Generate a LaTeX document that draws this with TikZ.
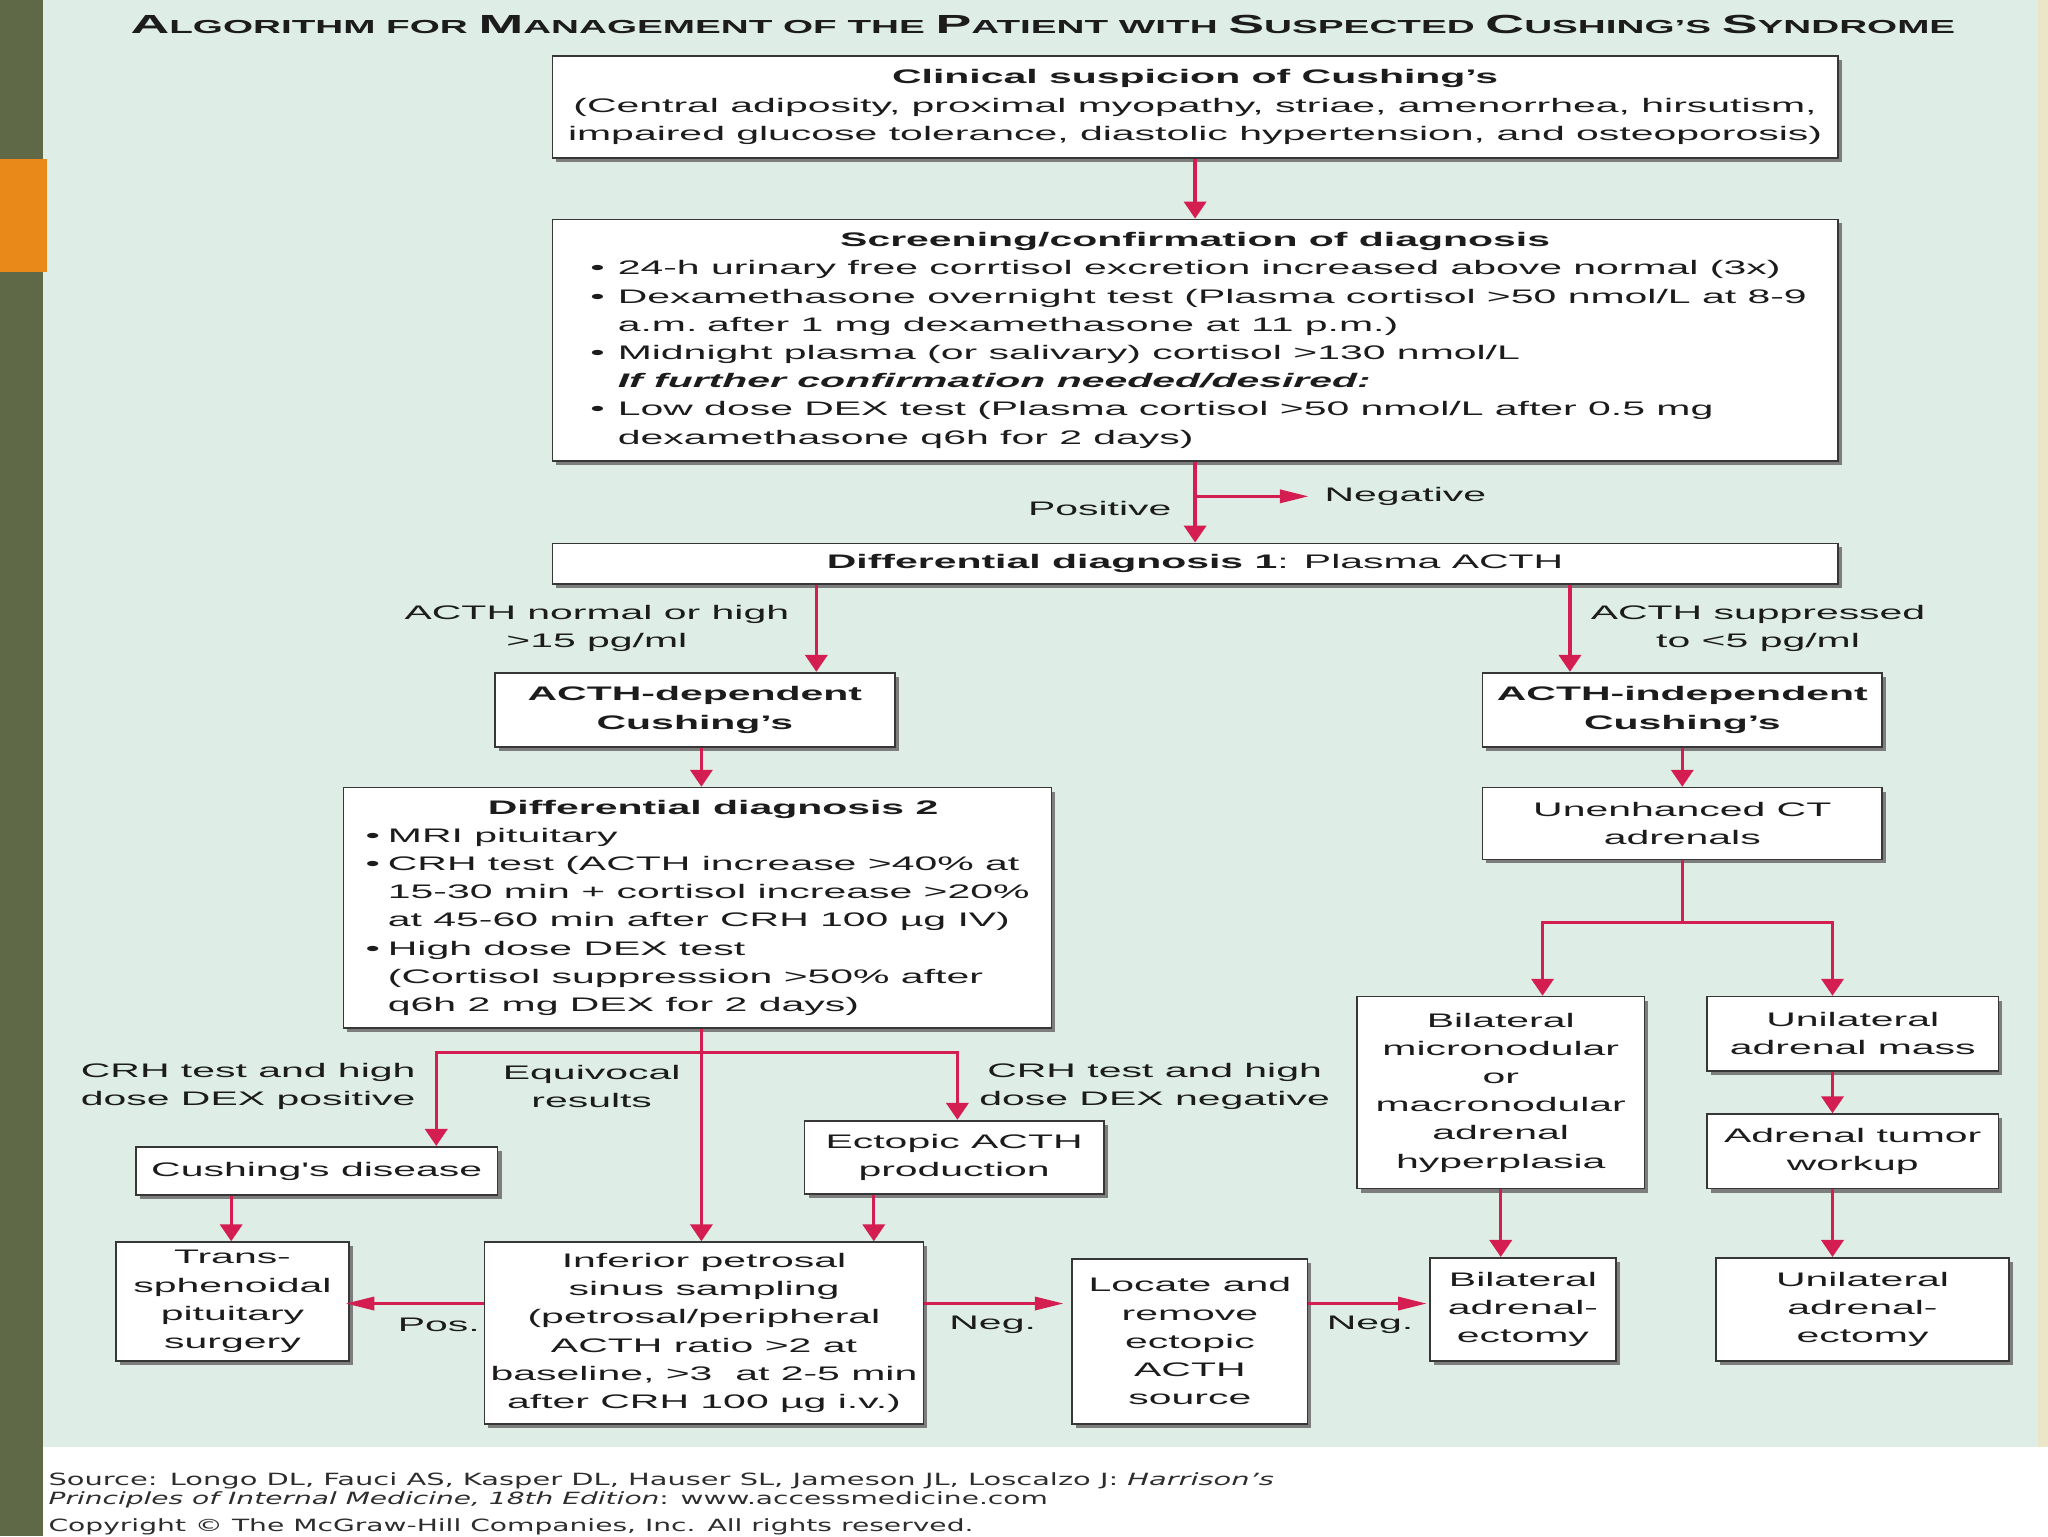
\documentclass[tikz,border=0pt]{standalone}
\usepackage{fontspec}
\usepackage{graphicx}
\newfontfamily\dfont{Liberation Sans}[FakeStretch=2.09]
\newfontfamily\ffont{DejaVu Sans}
\usetikzlibrary{arrows.meta,shadows}
\definecolor{mintbg}{RGB}{222,237,229}
\definecolor{olivec}{RGB}{95,105,72}
\definecolor{orangec}{RGB}{232,137,26}
\definecolor{creamc}{RGB}{236,230,200}
\definecolor{arrc}{RGB}{212,30,82}
\definecolor{boxc}{RGB}{55,55,55}
\definecolor{shadc}{RGB}{125,125,125}
\definecolor{txtc}{RGB}{28,28,28}
\definecolor{footc}{RGB}{45,45,45}
\newcommand\dfs{\dfont\fontsize{15}{21.6}\selectfont}
\newcommand\widesp{\spaceskip=8.7pt plus 1pt minus 1pt\relax}
\newcommand\mybul{\makebox[21pt][l]{•}}
\newcommand\myind{\hspace*{21pt}}
\newcommand\mybulb{\makebox[17pt][l]{•}}
\newcommand\myindb{\hspace*{17pt}}
\newcommand\bigc[1]{{\fontsize{20}{20}\selectfont #1}}
\begin{document}
\begin{tikzpicture}[x=1pt,y=-1pt,
  box/.style={draw=boxc, line width=1.3pt, fill=white, inner sep=0pt, align=center,
    text=txtc, font=\dfs,
    drop shadow={shadow xshift=3pt, shadow yshift=-3pt, fill=shadc, opacity=1}},
  conn/.style={draw=arrc, line width=2.5pt},
  varr/.style={conn, -{Triangle[length=13pt, width=17pt]}},
  harr/.style={conn, -{Triangle[length=22pt, width=10pt]}},
  lbl/.style={inner sep=0pt, align=center, font=\dfs, text=txtc}]
\useasboundingbox (0,0) rectangle (1568,1176);
% background
\fill[white] (0,0) rectangle (1568,1176);
\fill[mintbg] (33,0) rectangle (1560,1108);
\fill[creamc] (1560,0) rectangle (1568,1108);
\fill[olivec] (0,0) rectangle (33,1176);
\fill[orangec] (0,122) rectangle (36,208);
% title
\node[anchor=base, inner sep=0pt, text=txtc] (title) at (798.5,25.5)
  {\resizebox{1397pt}{14pt}{\dfont\bfseries\fontsize{14.4}{20}\selectfont \bigc{A}LGORITHM FOR \bigc{M}ANAGEMENT OF THE \bigc{P}ATIENT WITH \bigc{S}USPECTED \bigc{C}USHING’S \bigc{S}YNDROME}};
% boxes
\node[box, minimum width=984pt, minimum height=78pt] (clin) at (915,82)
  {{\bfseries Clinical suspicion of Cushing’s}\\(Central adiposity, proximal myopathy, striae, amenorrhea, hirsutism,\\impaired glucose tolerance, diastolic hypertension, and osteoporosis)};
\node[box, minimum width=984pt, minimum height=185pt, text width=926pt, align=left] (screen) at (915,260.5)
  {\widesp\makebox[926pt]{\bfseries Screening/confirmation of diagnosis}\\
   \mbox{\mybul 24-h urinary free corrtisol excretion increased above normal (3x)}\\
   \mbox{\mybul Dexamethasone overnight test (Plasma cortisol >50 nmol/L at 8-9}\\
   \mbox{\myind a.m. after 1 mg dexamethasone at 11 p.m.)}\\
   \mbox{\mybul Midnight plasma (or salivary) cortisol >130 nmol/L}\\
   \mbox{\myind{\bfseries\itshape If further confirmation needed/desired:}}\\
   \mbox{\mybul Low dose DEX test (Plasma cortisol >50 nmol/L after 0.5 mg}\\
   \mbox{\myind dexamethasone q6h for 2 days)}};
\node[box, minimum width=984pt, minimum height=31pt] (dd1) at (915,431.5)
  {{\bfseries Differential diagnosis 1}: Plasma ACTH};
\node[box, minimum width=306pt, minimum height=57pt, font=\dfs\bfseries] (dep) at (532,543.5)
  {ACTH-dependent\\Cushing’s};
\node[box, minimum width=306pt, minimum height=57pt, font=\dfs\bfseries] (indep) at (1288,543.5)
  {ACTH-independent\\Cushing’s};
\node[box, minimum width=542pt, minimum height=184pt, text width=508pt, align=left] (dd2) at (534,695)
  {\widesp\makebox[508pt]{\hspace{24pt}\bfseries Differential diagnosis 2}\\
   \mbox{\mybulb MRI pituitary}\\
   \mbox{\mybulb CRH test (ACTH increase >40\% at}\\
   \mbox{\myindb 15-30 min + cortisol increase >20\%}\\
   \mbox{\myindb at 45-60 min after CRH 100 µg IV)}\\
   \mbox{\mybulb High dose DEX test}\\
   \mbox{\myindb (Cortisol suppression >50\% after}\\
   \mbox{\myindb q6h 2 mg DEX for 2 days)}};
\node[box, minimum width=306pt, minimum height=55pt] (ct) at (1288,630.5)
  {Unenhanced CT\\adrenals};
\node[box, minimum width=220pt, minimum height=147pt] (bilhyp) at (1149,836.5)
  {Bilateral\\micronodular\\or\\macronodular\\adrenal\\hyperplasia};
\node[box, minimum width=223pt, minimum height=57pt] (unimass) at (1418.5,791.5)
  {Unilateral\\adrenal mass};
\node[box, minimum width=223pt, minimum height=57pt] (tumor) at (1418.5,881.5)
  {Adrenal tumor\\workup};
\node[box, minimum width=224pt, minimum height=79pt] (uniect) at (1426,1002.5)
  {Unilateral\\adrenal-\\ectomy};
\node[box, minimum width=142pt, minimum height=79pt] (bilect) at (1166,1002.5)
  {Bilateral\\adrenal-\\ectomy};
\node[box, minimum width=277pt, minimum height=37pt] (cd) at (242.5,896.5)
  {Cushing's disease};
\node[box, minimum width=229pt, minimum height=56pt] (ectopic) at (730.5,886)
  {Ectopic ACTH\\production};
\node[box, minimum width=336pt, minimum height=139pt] (ipss) at (539,1020.5)
  {Inferior petrosal\\sinus sampling\\(petrosal/peripheral\\ACTH ratio >2 at\\baseline, >3\ \ at 2-5 min\\after CRH 100 µg i.v.)};
\node[box, minimum width=178pt, minimum height=91pt] (tss) at (178,996.5)
  {Trans-\\sphenoidal\\pituitary\\surgery};
\node[box, minimum width=180pt, minimum height=126pt] (locate) at (911,1027)
  {Locate and\\remove\\ectopic\\ACTH\\source};
% labels
\node[lbl] (posl) at (842,389) {Positive};
\node[lbl] (negl) at (1076,380) {Negative};
\node[lbl] (lnh) at (457,481) {ACTH normal or high\\>15 pg/ml};
\node[lbl] (lsup) at (1346,481) {ACTH suppressed\\to <5 pg/ml};
\node[lbl] (lpos) at (190,832) {CRH test and high\\dose DEX positive};
\node[lbl] (leq) at (453,832) {Equivocal\\results};
\node[lbl] (lneg) at (884,832) {CRH test and high\\dose DEX negative};
\node[lbl] (pos1) at (336,1014) {Pos.};
\node[lbl] (neg1) at (760,1014) {Neg.};
\node[lbl] (neg2) at (1049,1014) {Neg.};
% coordinates
\coordinate (cA) at (625,447);
\coordinate (cB) at (1202,447);
\coordinate (cC) at (537,572);
\coordinate (jA) at (1181,706);
\coordinate (jB) at (1403,706);
\coordinate (jC) at (537,806);
\coordinate (jL) at (334,806);
\coordinate (jR) at (733,806);
\coordinate (jD) at (177,915);
\coordinate (jE) at (669,914);
\coordinate (ya) at (0,998);
% connectors
\draw[varr] (clin.south) -- (screen.north);
\draw[varr] (screen.south) -- (dd1.north);
\draw[harr] (screen.south |- negl) -- ([xshift=-12pt]negl.west);
\draw[varr] (cA |- dd1.south) -- (cA |- dep.north);
\draw[varr] (cB |- dd1.south) -- (cB |- indep.north);
\draw[varr] (cC |- dep.south) -- (cC |- dd2.north);
\draw[varr] (indep.south) -- (ct.north);
\draw[varr] (ct.south) |- (jA) -- (jA |- bilhyp.north);
\draw[varr] (ct.south |- jA) -| (jB |- unimass.north);
\draw[varr] (jB |- unimass.south) -- (jB |- tumor.north);
\draw[varr] (jB |- tumor.south) -- (jB |- uniect.north);
\draw[varr] (bilhyp.south) -- (bilhyp.south |- bilect.north);
\draw[varr] (jC |- dd2.south) -- (jC |- ipss.north);
\draw[varr] (jC) -| (jL |- cd.north);
\draw[varr] (jC) -| (jR |- ectopic.north);
\draw[varr] (jD |- cd.south) -- (jD |- tss.north);
\draw[varr] (jE |- ectopic.south) -- (jE |- ipss.north);
\draw[harr, shorten >=-3pt] (ya -| ipss.west) -- (ya -| tss.east);
\draw[harr, shorten >=6pt] (ya -| ipss.east) -- (ya -| locate.west);
\draw[harr, shorten >=2pt] (ya -| locate.east) -- (ya -| bilect.west);
% footer
\node[anchor=base west, inner sep=0pt, text=footc] (src1) at (37,1137)
  {\resizebox{938pt}{9.8pt}{\ffont Source: Longo DL, Fauci AS, Kasper DL, Hauser SL, Jameson JL, Loscalzo J: \textit{Harrison’s}}};
\node[anchor=base west, inner sep=0pt, text=footc] (src2) at (37,1151.5)
  {\resizebox{765pt}{9.8pt}{\ffont\textit{Principles of Internal Medicine, 18th Edition}: www.accessmedicine.com}};
\node[anchor=base west, inner sep=0pt, text=footc] (src3) at (37,1172.5)
  {\resizebox{708pt}{9.8pt}{\ffont Copyright © The McGraw-Hill Companies, Inc. All rights reserved.}};
\end{tikzpicture}
\end{document}
